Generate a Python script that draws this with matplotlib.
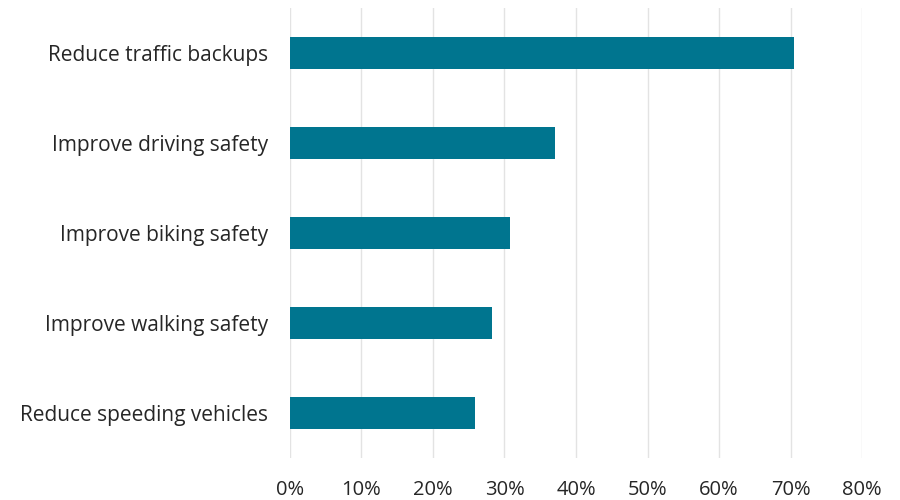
import matplotlib
matplotlib.use("Agg")
import matplotlib.pyplot as plt
from matplotlib.ticker import PercentFormatter

categories = [
    "Reduce traffic backups",
    "Improve driving safety",
    "Improve biking safety",
    "Improve walking safety",
    "Reduce speeding vehicles",
]
shares = [70.5, 37.0, 30.8, 28.3, 25.9]
ticks = [0, 10, 20, 30, 40, 50, 60, 70, 80]

plt.rcParams["font.family"] = ["Open Sans", "DejaVu Sans"]

fig = plt.figure(figsize=(9, 5), dpi=100)
ax = fig.add_axes([0.3222, 0.084, 0.6356, 0.9])

ypos = list(range(len(categories)))[::-1]
ax.barh(ypos, shares, height=0.355, color="#00758f", zorder=3)

ax.set_ylim(-0.5, len(categories) - 0.5)
ax.set_xlim(0, 80)
ax.set_xticks(ticks)
ax.xaxis.set_major_formatter(PercentFormatter(decimals=0))
ax.set_yticks(ypos)
ax.set_yticklabels(categories)

ax.grid(axis="x", color="#e3e3e3", linewidth=1, zorder=0)
for side in ax.spines.values():
    side.set_visible(False)
ax.tick_params(axis="x", length=0, pad=16, labelsize=14.5, labelcolor="#262626")
ax.tick_params(axis="y", length=0, pad=16, labelsize=15, labelcolor="#262626")

fig.savefig("out.png", dpi=100)
